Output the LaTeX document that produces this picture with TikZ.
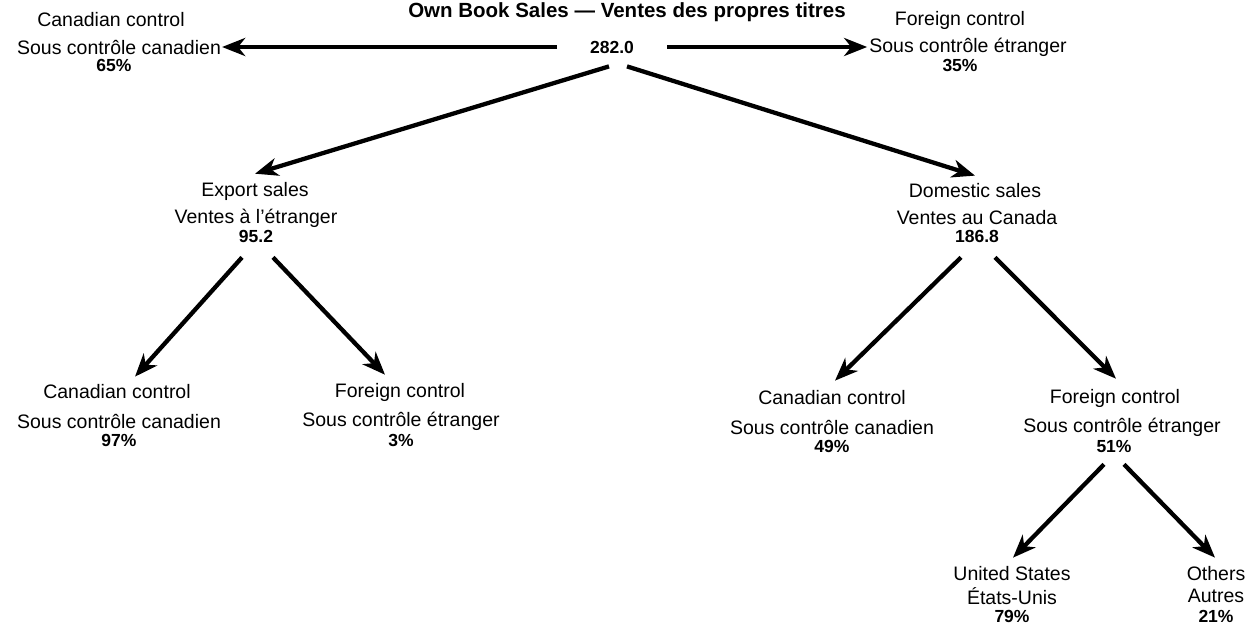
\documentclass[tikz,border=0pt]{standalone}
\usepackage{fontspec}
\setmainfont{Liberation Sans}
\usetikzlibrary{arrows.meta,calc}
\begin{document}
\begin{tikzpicture}[x=1pt,y=-1pt,
  lab/.style={inner sep=0pt,anchor=center,font=\fontsize{19.5}{22}\selectfont},
  num/.style={inner sep=0pt,anchor=center,font=\fontsize{17.5}{20}\selectfont\bfseries},
  arr/.style={line width=4.3pt,-{Stealth[length=23pt,width=18pt,inset=7pt]}}]
\useasboundingbox (0,0) rectangle (1252,626);
% title
\node[num,font=\fontsize{20.5}{23}\selectfont\bfseries] (title) at (627,12) {Own Book Sales --- Ventes des propres titres};
% root
\node[num] (root) at (612,47) {282.0};
% top left
\node[lab] (tlA) at (111,20) {Canadian control};
\node[lab] (tlB) at (119,47) {Sous contrôle canadien};
\node[num] (tlC) at (114,65) {65\%};
% top right
\node[lab] (trA) at (960,20) {Foreign control};
\node[lab] (trB) at (968,47) {Sous contrôle étranger};
\node[num] (trC) at (960,65) {35\%};
% export
\node[lab] (exA) at (255,191) {Export sales};
\node[lab] (exB) at (256,218) {Ventes à l'étranger};
\node[num] (exC) at (256,236) {95.2};
% domestic
\node[lab] (doA) at (975,191) {Domestic sales};
\node[lab] (doB) at (977,218) {Ventes au Canada};
\node[num] (doC) at (977,236) {186.8};
% export children
\node[lab] (ecA) at (117,392) {Canadian control};
\node[lab] (ecB) at (119,421) {Sous contrôle canadien};
\node[num] (ecC) at (119,440) {97\%};
\node[lab] (efA) at (400,392) {Foreign control};
\node[lab] (efB) at (401,421) {Sous contrôle étranger};
\node[num] (efC) at (401,440) {3\%};
% domestic children
\node[lab] (dcA) at (832,398) {Canadian control};
\node[lab] (dcB) at (832,427) {Sous contrôle canadien};
\node[num] (dcC) at (832,446) {49\%};
\node[lab] (dfA) at (1115,398) {Foreign control};
\node[lab] (dfB) at (1122,427) {Sous contrôle étranger};
\node[num] (dfC) at (1114,446) {51\%};
% foreign children
\node[lab] (usA) at (1012,574) {United States};
\node[lab] (usB) at (1012,596) {États-Unis};
\node[num] (usC) at (1012,616) {79\%};
\node[lab] (otA) at (1216,574) {Others};
\node[lab] (otB) at (1216,596) {Autres};
\node[num] (otC) at (1216,616) {21\%};
% arrow endpoints
\coordinate (r1) at ($(root)+(-55,0)$);
\coordinate (r2) at ($(root)+(55,0)$);
\coordinate (r3) at ($(root.south)+(-3,13)$);
\coordinate (r4) at ($(root.south)+(15,13)$);
\coordinate (e1) at ($(exC.south)+(-14,15)$);
\coordinate (e2) at ($(exC.south)+(17,15)$);
\coordinate (d1) at ($(doC.south)+(-16,15)$);
\coordinate (d2) at ($(doC.south)+(18,15)$);
\coordinate (f1) at ($(dfC.south)+(-10,12)$);
\coordinate (f2) at ($(dfC.south)+(10,12)$);
\draw[arr] (r1) -- ($(tlB.east)+(1,0)$);
\draw[arr] (r2) -- ($(trB.west)+(-2,0)$);
\draw[arr] (r3) -- ($(exA.north)+(0,-8)$);
\draw[arr] (r4) -- ($(doA.north)+(0,-8)$);
\draw[arr] (e1) -- ($(ecA.north)+(18,-8)$);
\draw[arr] (e2) -- ($(efA.north)+(-15,-8)$);
\draw[arr] (d1) -- ($(dcA.north)+(3,-10)$);
\draw[arr] (d2) -- ($(dfA.north)+(1,-10)$);
\draw[arr] (f1) -- ($(usA.north)+(1,-9)$);
\draw[arr] (f2) -- ($(otA.north)+(-1,-9)$);
\end{tikzpicture}
\end{document}
